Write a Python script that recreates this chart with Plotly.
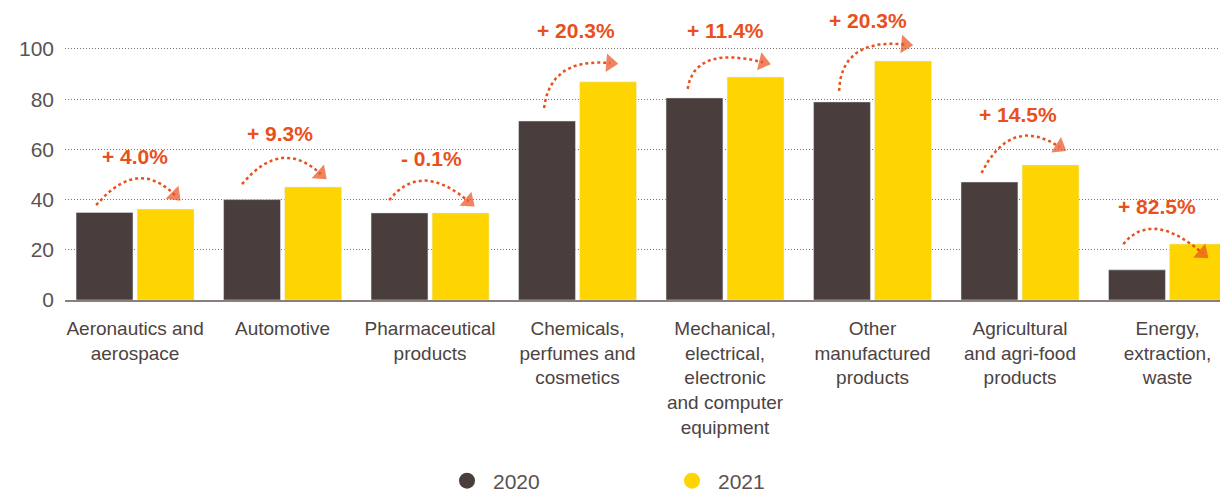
import numpy as np
import plotly.graph_objects as go

# Sector data
categories = [
    "Aeronautics and<br>aerospace",
    "Automotive",
    "Pharmaceutical<br>products",
    "Chemicals,<br>perfumes and<br>cosmetics",
    "Mechanical,<br>electrical,<br>electronic<br>and computer<br>equipment",
    "Other<br>manufactured<br>products",
    "Agricultural<br>and agri-food<br>products",
    "Energy,<br>extraction,<br>waste",
]
values_2020 = [34.9, 40.0, 34.7, 71.3, 80.5, 78.9, 47.0, 12.0]
values_2021 = [36.2, 45.0, 34.7, 86.9, 88.8, 95.2, 53.8, 22.3]
change_labels = ["+ 4.0%", "+ 9.3%", "- 0.1%", "+ 20.3%", "+ 11.4%", "+ 20.3%", "+ 14.5%", "+ 82.5%"]
y_ticks = [0, 20, 40, 60, 80, 100]

DARK = "#4a3e3d"
YELLOW = "#fed500"
ORANGE = "#e9501c"
TEXT = "#4c4342"
LABEL_FONT = "Liberation Sans, Arial, sans-serif"

# Curved "change" arrows: offsets relative to each category centre and bar tops
# (start_dx, start_dy over 2020, ctrl_dx, ctrl_dy over taller bar, end_dx, end_dy over 2021, label_dx, label_y)
arc_style = [
    (-0.264, 2.9, 0.014, 20.8, 0.27, 5.6, -0.003, 57.0),
    (-0.275, 6.2, -0.009, 19.9, 0.259, 5.2, -0.018, 66.5),
    (-0.277, 5.1, -0.064, 20.9, 0.261, 4.6, 0.01, 56.2),
    (-0.227, 5.2, -0.186, 9.7, 0.222, 7.5, -0.01, 107.2),
    (-0.254, 3.6, -0.206, 12.8, 0.258, 5.9, 0.0, 107.2),
    (-0.227, 4.4, -0.213, 9.2, 0.222, 6.6, -0.03, 111.3),
    (-0.261, 3.6, -0.064, 19.9, 0.268, 7.2, -0.017, 73.7),
    (-0.30, 10.3, -0.105, 13.8, 0.236, -3.6, -0.07, 37.1),
]

x = list(range(len(categories)))

fig = go.Figure()
fig.add_trace(go.Bar(
    x=x, y=values_2020, name="2020", marker_color=DARK,
    width=0.386, offset=-0.40, showlegend=False,
))
fig.add_trace(go.Bar(
    x=x, y=values_2021, name="2021", marker_color=YELLOW,
    width=0.386, offset=0.014, showlegend=False,
))

t = np.linspace(0, 1, 40)
annotations = []
for i, (sdx, sdy, cdx, cdy, edx, edy, ldx, ly) in enumerate(arc_style):
    a, b = values_2020[i], values_2021[i]
    p0 = np.array([i + sdx, a + sdy])
    p1 = np.array([i + cdx, max(a, b) + cdy])
    p2 = np.array([i + edx, b + edy])
    curve = ((1 - t)[:, None] ** 2) * p0 + (2 * (1 - t) * t)[:, None] * p1 + (t[:, None] ** 2) * p2
    sizes = [0] * (len(t) - 1) + [16]
    fig.add_trace(go.Scatter(
        x=curve[:, 0], y=curve[:, 1], mode="lines+markers",
        line=dict(color=ORANGE, width=2.5, dash="dot"),
        marker=dict(symbol="triangle-up", size=sizes, color=ORANGE, angleref="previous",
                    line=dict(width=0)),
        showlegend=False, hoverinfo="skip",
    ))
    annotations.append(dict(
        x=i + ldx, y=ly, xref="x", yref="y", text=change_labels[i], showarrow=False,
        font=dict(family=LABEL_FONT, size=21, color=ORANGE, weight="bold"),
        xanchor="center", yanchor="middle",
    ))

# Legend entries drawn as round markers
for name, col in [("2020", DARK), ("2021", YELLOW)]:
    fig.add_trace(go.Scatter(
        x=[None], y=[None], mode="markers", name=name,
        marker=dict(symbol="circle", size=16, color=col),
    ))

fig.update_layout(
    width=1220, height=495,
    margin=dict(l=65, r=0, t=0, b=195),
    plot_bgcolor="white", paper_bgcolor="white",
    barmode="overlay",
    font=dict(family="Liberation Sans, Arial, sans-serif", color=TEXT),
    annotations=annotations,
    showlegend=True,
    legend=dict(
        orientation="h", x=(467 - 65 - 26) / 1155, xanchor="left",
        yref="container", y=1 - 481 / 495, yanchor="middle",
        font=dict(size=21, color="#5a5150"),
        itemwidth=42, entrywidth=168, entrywidthmode="pixels",
        bgcolor="rgba(0,0,0,0)",
    ),
    xaxis=dict(
        range=[-0.475, 7.356], tickvals=x, ticktext=categories,
        tickfont=dict(size=19, color=TEXT), showgrid=False, zeroline=False,
        showline=True, linecolor="#8a7f7a", linewidth=2, ticks="",
        tickangle=0, ticklabelstandoff=10,
    ),
    yaxis=dict(
        range=[0, 119.5], tickvals=y_ticks, showgrid=True,
        gridcolor="#7d7370", gridwidth=1.3, griddash="1px,2px",
        zeroline=False, showline=False, ticks="",
        tickfont=dict(size=21, color="#5a5352"), ticklabelstandoff=10,
    ),
)

fig.write_html("out.html")
